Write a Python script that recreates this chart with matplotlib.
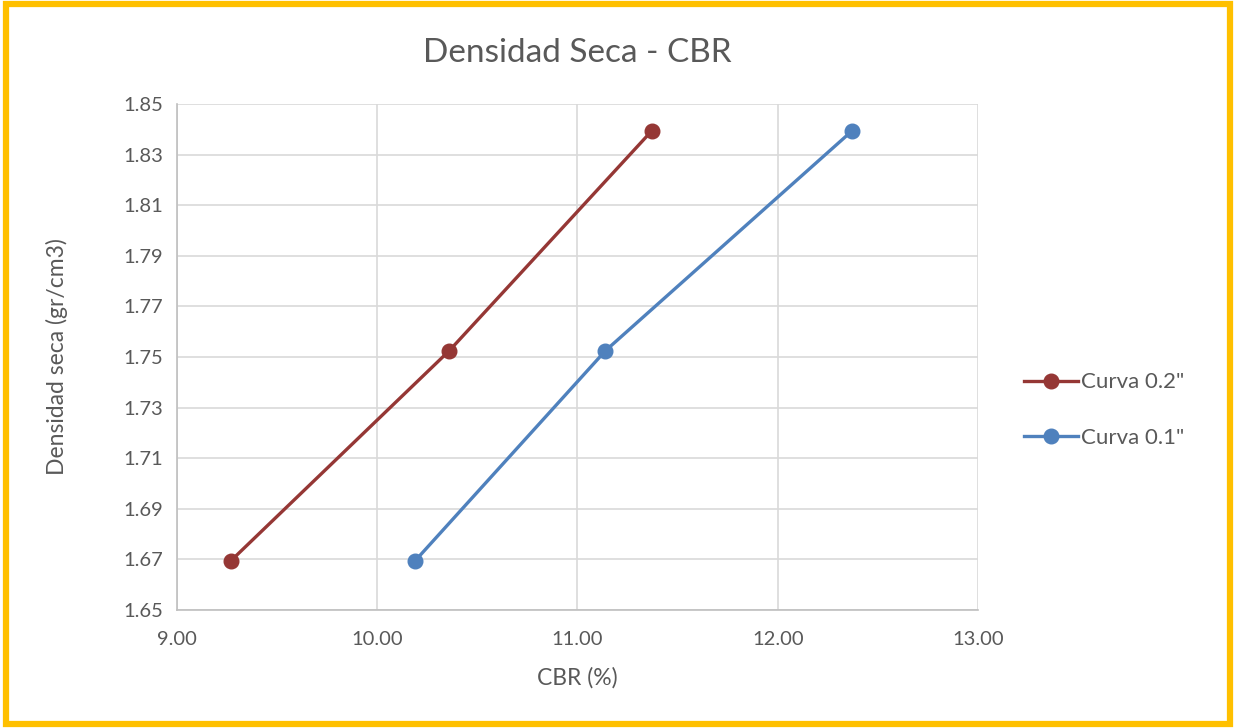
import matplotlib
matplotlib.use('Agg')
import matplotlib.pyplot as plt
from matplotlib.patches import Rectangle

# data
cbr_02 = [9.27, 10.36, 11.37]
cbr_01 = [10.19, 11.14, 12.37]
densidad = [1.6695, 1.7525, 1.8393]
xticks = [9.0, 10.0, 11.0, 12.0, 13.0]
yticks = [1.65, 1.67, 1.69, 1.71, 1.73, 1.75, 1.77, 1.79, 1.81, 1.83, 1.85]

plt.rcParams['font.family'] = ['Lato', 'DejaVu Sans']
txt = '#595959'

fig = plt.figure(figsize=(12.34, 7.28), dpi=100)
ax = fig.add_axes([0.1434, 0.1621, 0.6491, 0.695])

ax.plot(cbr_02, densidad, color='#953735', lw=2.4, marker='o', ms=10.5, label='Curva 0.2"')
ax.plot(cbr_01, densidad, color='#4F81BD', lw=2.4, marker='o', ms=10.5, label='Curva 0.1"')

ax.set_xlim(9, 13)
ax.set_ylim(1.65, 1.85)
ax.set_xticks(xticks)
ax.set_yticks(yticks)
ax.set_xticklabels(['%.2f' % v for v in xticks])
ax.set_yticklabels(['%.2f' % v for v in yticks])
ax.grid(True, color='#D9D9D9', lw=1.2)
ax.set_axisbelow(True)
for s in ['top', 'right']:
    ax.spines[s].set_visible(False)
for s in ['left', 'bottom']:
    ax.spines[s].set_color('#BFBFBF')
    ax.spines[s].set_linewidth(1.2)
ax.tick_params(length=0, labelsize=14.5, colors=txt, pad=10)
ax.tick_params(axis='x', pad=15)

ax.set_title('Densidad Seca - CBR', fontsize=24, color=txt, pad=30)
ax.set_xlabel('CBR (%)', fontsize=16.5, color=txt, labelpad=14)
ax.set_ylabel('Densidad seca (gr/cm3)', fontsize=16.5, color=txt, labelpad=40)

ax.legend(loc='center left', bbox_to_anchor=(1.033, 0.395), frameon=False,
          fontsize=16, labelcolor=txt, handlelength=2.4, handletextpad=0.15,
          labelspacing=1.6)

fig.patches.append(Rectangle((0.0045, 0.006), 0.9925, 0.988, transform=fig.transFigure,
                             fill=False, edgecolor='#FFC000', lw=4.5))

fig.savefig('out.png', dpi=100)
